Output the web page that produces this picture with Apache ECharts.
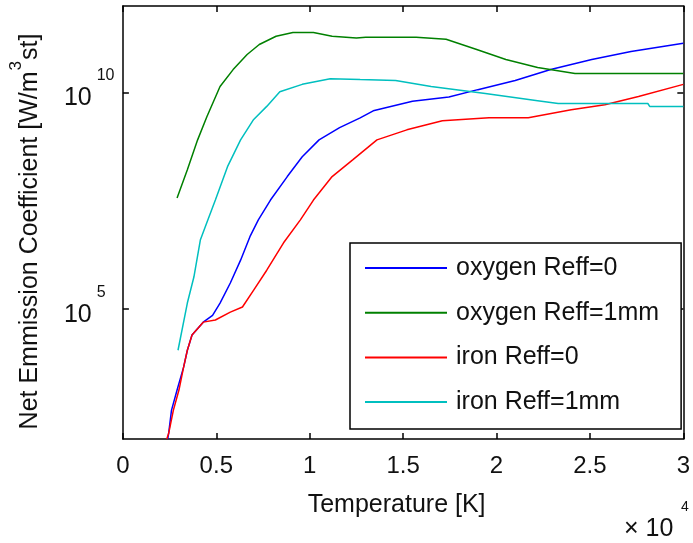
<!DOCTYPE html>
<html>
<head>
<meta charset="utf-8">
<script src="https://cdn.jsdelivr.net/npm/echarts@6/dist/echarts.min.js"></script>
<style>html,body{margin:0;padding:0;background:#fff;}#c{width:693px;height:543px;}</style>
</head>
<body>
<div id="c"></div>
<script>
// Temperatures in K, emission coefficients in W/m^3/sr
const seriesNames = ['oxygen Reff=0', 'oxygen Reff=1mm', 'iron Reff=0', 'iron Reff=1mm'];
const xTicks = [0, 5000, 10000, 15000, 20000, 25000, 30000];
const yTicks = [1e5, 1e10];

const tOxygen0 = [2400, 2450, 2600, 2900, 3250, 3450, 3700, 4300, 4800, 5200, 5750, 6300, 6800, 7250, 7900, 8800, 9600, 10500, 11600, 12700, 13400, 15500, 17450, 19000, 21000, 22900, 25100, 27200, 30000];
const vOxygen0 = [100, 135, 457, 1350, 4570, 1.12e4, 2.51e4, 5.0e4, 7.2e4, 1.38e5, 4.0e5, 1.35e6, 4.7e6, 1.15e7, 3.3e7, 1.15e8, 3.3e8, 8.1e8, 1.55e9, 2.6e9, 3.8e9, 6.3e9, 7.9e9, 1.17e10, 1.9e10, 3.4e10, 5.8e10, 8.9e10, 1.38e11];

const tOxygen1 = [2900, 3450, 4000, 4500, 5200, 5900, 6650, 7300, 8200, 9100, 10200, 11200, 12500, 13000, 15700, 17300, 18900, 20500, 22200, 24200, 30000];
const vOxygen1 = [3.7e7, 1.66e8, 8.1e8, 2.8e9, 1.38e10, 3.4e10, 7.6e10, 1.29e11, 2.0e11, 2.45e11, 2.45e11, 2.0e11, 1.82e11, 1.9e11, 1.9e11, 1.7e11, 1.0e11, 5.8e10, 3.8e10, 2.75e10, 2.75e10];

const tIron0 = [2350, 2450, 2700, 3000, 3250, 3450, 3700, 4300, 4950, 5750, 6400, 7000, 7700, 8600, 9500, 10200, 11200, 12300, 13600, 15200, 17100, 19600, 21700, 24000, 25800, 27600, 30000];
const vIron0 = [100, 135, 457, 1350, 4570, 1.12e4, 2.51e4, 5.0e4, 5.6e4, 8.5e4, 1.12e5, 2.75e5, 7.9e5, 3.4e6, 1.15e7, 3.3e7, 1.15e8, 2.8e8, 8.1e8, 1.38e9, 2.24e9, 2.63e9, 2.63e9, 4.0e9, 5.25e9, 8.1e9, 1.55e10];

const tIron1 = [2950, 3450, 3800, 4150, 4450, 4950, 5600, 6300, 7000, 7700, 8400, 9600, 11100, 12700, 14600, 16500, 19400, 22200, 23300, 28100, 28200, 30000];
const vIron1 = [1.12e4, 1.38e5, 5.5e5, 4.0e6, 8.9e6, 3.3e7, 1.95e8, 8.1e8, 2.4e9, 4.8e9, 1.05e10, 1.55e10, 2.1e10, 2.0e10, 1.9e10, 1.38e10, 9.5e9, 6.5e9, 5.6e9, 5.6e9, 4.8e9, 4.8e9];

const colors = ['#0000ff', '#008000', '#ff0000', '#00bfbf'];
const FONT = 'Liberation Sans, Arial, Helvetica, sans-serif';
const TXT = '#111';

function pairs(t, v) { return t.map((x, i) => [x, v[i]]); }
const allData = [pairs(tOxygen0, vOxygen0), pairs(tOxygen1, vOxygen1), pairs(tIron0, vIron0), pairs(tIron1, vIron1)];

const chart = echarts.init(document.getElementById('c'), null, {renderer: 'canvas'});

const axisLineStyle = {color: '#000', width: 1.5};
const xBase = {
  type: 'value', min: 0, max: 30000, interval: 5000,
  axisLine: {show: true, lineStyle: axisLineStyle, onZero: false},
  axisTick: {show: true, inside: true, length: 6, lineStyle: axisLineStyle},
  splitLine: {show: false}
};
const yBase = {
  type: 'log', logBase: 10, min: 1e2, max: 1e12,
  axisLine: {show: true, lineStyle: axisLineStyle, onZero: false},
  axisTick: {show: true, inside: true, length: 6, lineStyle: axisLineStyle, customValues: yTicks},
  minorTick: {show: false},
  splitLine: {show: false}
};

const option = {
  backgroundColor: '#fff',
  animation: false,
  grid: {left: 122, right: 6, top: 6, bottom: 104, containLabel: false},
  xAxis: [
    Object.assign({}, xBase, {
      position: 'bottom',
      name: 'Temperature [K]', nameLocation: 'middle', nameGap: 54,
      nameTextStyle: {fontSize: 25, fontFamily: FONT, color: TXT, padding: [0, 13, 0, 0]},
      axisLabel: {show: true, margin: 15, fontSize: 24, fontFamily: FONT, color: TXT,
        formatter: v => String(v / 1e4), customValues: xTicks}
    }),
    Object.assign({}, xBase, {position: 'top', axisLabel: {show: false}})
  ],
  yAxis: [
    Object.assign({}, yBase, {
      position: 'left',
      name: '{a|Net Emmission Coefficient [W/m}{s|3}{a|st]}',
      nameLocation: 'middle', nameGap: 70, nameRotate: 90,
      nameTextStyle: {padding: [0, 18, 0, 0], rich: {
        a: {fontSize: 25, fontFamily: FONT, color: TXT, lineHeight: 25},
        s: {fontSize: 17, fontFamily: FONT, color: TXT, lineHeight: 17, padding: [0, 1, 28, 1]}
      }},
      axisLabel: {show: true, margin: 59, align: 'left', customValues: yTicks,
        formatter: v => '{b|10}{s|' + Math.round(Math.log10(v)) + '}',
        rich: {
          b: {fontSize: 25, fontFamily: FONT, color: TXT, lineHeight: 25, padding: [12, 0, 0, 0]},
          s: {fontSize: 16, fontFamily: FONT, color: TXT, lineHeight: 16, padding: [0, 0, 34, 5]}
        }}
    }),
    Object.assign({}, yBase, {position: 'right', axisLabel: {show: false}})
  ],
  legend: {
    show: true, orient: 'vertical', left: 350, top: 243,
    padding: [12, 22, 14, 15],
    itemWidth: 82, itemHeight: 2, itemGap: 18.7, icon: 'rect',
    borderColor: '#000', borderWidth: 1.5, backgroundColor: '#fff',
    textStyle: {fontSize: 25, fontFamily: FONT, color: TXT, lineHeight: 26, padding: [0, 0, 0, 4]},
    data: seriesNames
  },
  graphic: [
    {type: 'text', left: 624, top: 517, style: {text: '× 10', fontSize: 25, fontFamily: FONT, fill: TXT}},
    {type: 'text', left: 681, top: 500, style: {text: '4', fontSize: 14, fontFamily: FONT, fill: TXT}}
  ],
  series: seriesNames.map((n, i) => ({
    name: n, type: 'line', data: allData[i], xAxisIndex: 0, yAxisIndex: 0,
    showSymbol: false, symbol: 'none', smooth: false, clip: true,
    lineStyle: {color: colors[i], width: 1.5}, itemStyle: {color: colors[i]}
  }))
};
chart.setOption(option);
</script>
</body>
</html>
